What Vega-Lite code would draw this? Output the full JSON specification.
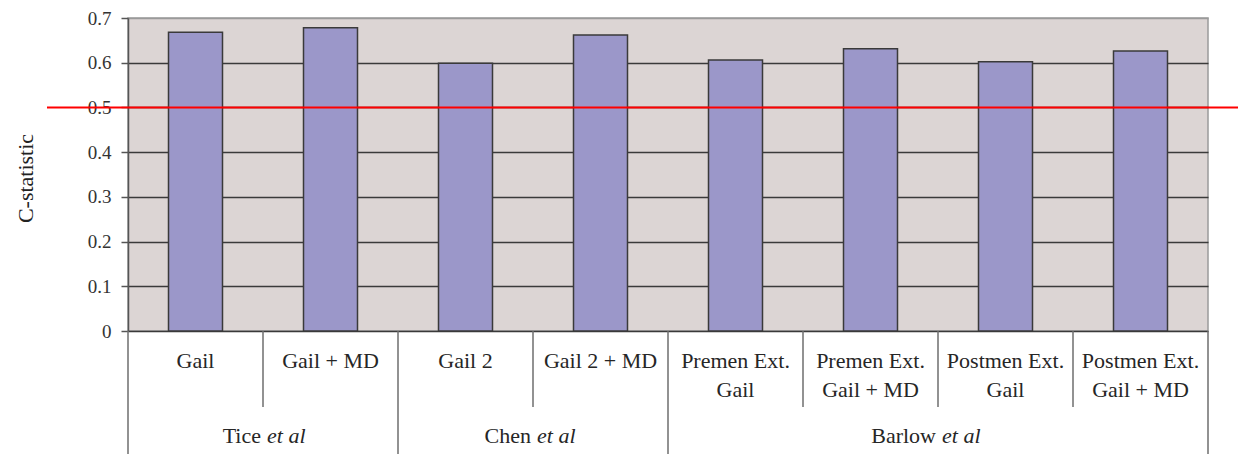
{
  "$schema": "https://vega.github.io/schema/vega-lite/v6.json",
  "background": "white",
  "padding": {"left": 13, "top": 8, "right": 0, "bottom": 0},
  "bounds": "flush",
  "spacing": 0,
  "config": {"view": {"stroke": null}, "font": "Liberation Serif"},
  "datasets": {
    "cstat": [
      {"study": "Tice", "model": "Gail", "c": 0.668},
      {"study": "Tice", "model": "Gail + MD", "c": 0.678},
      {"study": "Chen", "model": "Gail 2", "c": 0.599},
      {"study": "Chen", "model": "Gail 2 + MD", "c": 0.662},
      {"study": "Barlow", "model": "Premen Ext. Gail", "c": 0.606},
      {"study": "Barlow", "model": "Premen Ext. Gail + MD", "c": 0.631},
      {"study": "Barlow", "model": "Postmen Ext. Gail", "c": 0.602},
      {"study": "Barlow", "model": "Postmen Ext. Gail + MD", "c": 0.626}
    ],
    "groupStarts": [
      {"model": "Gail"},
      {"model": "Gail 2"},
      {"model": "Premen Ext. Gail"}
    ],
    "innerEdges": [
      {"model": "Gail + MD"},
      {"model": "Gail 2 + MD"},
      {"model": "Premen Ext. Gail + MD"},
      {"model": "Postmen Ext. Gail"},
      {"model": "Postmen Ext. Gail + MD"}
    ],
    "studies": [
      {"study": "Tice", "mid": "Gail + MD"},
      {"study": "Chen", "mid": "Gail 2 + MD"},
      {"study": "Barlow", "mid": "Postmen Ext. Gail"}
    ]
  },
  "vconcat": [
    {
      "width": 1080,
      "height": 313,
      "view": {"fill": "#dcd5d4", "stroke": "#9a9a9a", "strokeWidth": 1.5},
      "layer": [
        {
          "data": {"name": "cstat"},
          "mark": {"type": "bar", "fill": "#9b97c9", "stroke": "#3a3a3a", "strokeWidth": 1.5},
          "encoding": {
            "x": {
              "field": "model", "type": "nominal",
              "scale": {
                "domain": ["Gail", "Gail + MD", "Gail 2", "Gail 2 + MD", "Premen Ext. Gail", "Premen Ext. Gail + MD", "Postmen Ext. Gail", "Postmen Ext. Gail + MD"],
                "paddingInner": 0.6, "paddingOuter": 0.3
              },
              "axis": null
            },
            "y": {
              "field": "c", "type": "quantitative",
              "scale": {"domain": [0, 0.7], "nice": false},
              "axis": {
                "values": [0, 0.1, 0.2, 0.3, 0.4, 0.5, 0.6, 0.7],
                "format": ".1~f",
                "title": "C-statistic",
                "titleFont": "Liberation Serif",
                "titleFontSize": 22,
                "titleFontWeight": "normal",
                "titleColor": "#222222",
                "titleAngle": -90,
                "titleX": -103,
                "titleY": 160,
                "titleAlign": "center",
                "titleBaseline": "middle",
                "labelFont": "Liberation Serif",
                "labelFontSize": 19,
                "labelColor": "#333333",
                "labelPadding": 10,
                "tickSize": 7,
                "tickColor": "#555555",
                "tickWidth": 1.5,
                "domainColor": "#555555",
                "domainWidth": 1.5,
                "grid": true,
                "gridColor": {"condition": {"test": "datum.value >= 0.7", "value": "#9a9a9a"}, "value": "#3a3a3a"},
                "gridWidth": 1.5,
                "gridOpacity": 1
              }
            }
          }
        },
        {
          "data": {"values": [{"threshold": 0.5}]},
          "mark": {"type": "rule", "color": "#ff0000", "strokeWidth": 2},
          "encoding": {
            "y": {"field": "threshold", "type": "quantitative"},
            "x": {"value": -81},
            "x2": {"value": 1112}
          }
        }
      ]
    },
    {
      "width": 1080,
      "height": 123,
      "view": {"stroke": null},
      "encoding": {
        "x": {
          "field": "model", "type": "nominal",
          "scale": {
            "domain": ["Gail", "Gail + MD", "Gail 2", "Gail 2 + MD", "Premen Ext. Gail", "Premen Ext. Gail + MD", "Postmen Ext. Gail", "Postmen Ext. Gail + MD"],
            "paddingInner": 0, "paddingOuter": 0
          },
          "axis": null
        }
      },
      "layer": [
        {
          "data": {"name": "groupStarts"},
          "mark": {"type": "rule", "color": "#6e6e6e", "strokeWidth": 1.5},
          "encoding": {"x": {"field": "model", "type": "nominal", "bandPosition": 0}}
        },
        {
          "data": {"values": [{"model": "Postmen Ext. Gail + MD"}]},
          "mark": {"type": "rule", "color": "#6e6e6e", "strokeWidth": 1.5},
          "encoding": {"x": {"field": "model", "type": "nominal", "bandPosition": 1}}
        },
        {
          "data": {"name": "innerEdges"},
          "mark": {"type": "rule", "color": "#6e6e6e", "strokeWidth": 1.5},
          "encoding": {
            "x": {"field": "model", "type": "nominal", "bandPosition": 0},
            "y": {"value": 0},
            "y2": {"value": 76}
          }
        },
        {
          "data": {"name": "cstat"},
          "transform": [{"calculate": "replace(datum.model, 'Ext. ', 'Ext.\\n')", "as": "label"}],
          "mark": {"type": "text", "font": "Liberation Serif", "fontSize": 22, "color": "#262626", "baseline": "alphabetic", "lineBreak": "\n", "lineHeight": 29, "y": 37},
          "encoding": {"text": {"field": "label", "type": "nominal"}}
        },
        {
          "data": {"name": "studies"},
          "mark": {"type": "text", "font": "Liberation Serif", "fontSize": 22, "color": "#262626", "baseline": "alphabetic", "align": "right", "dx": -2, "y": 112},
          "encoding": {
            "x": {"field": "mid", "type": "nominal", "bandPosition": 0},
            "text": {"field": "study", "type": "nominal"}
          }
        },
        {
          "data": {"name": "studies"},
          "mark": {"type": "text", "font": "Liberation Serif", "fontSize": 22, "fontStyle": "italic", "color": "#262626", "baseline": "alphabetic", "align": "left", "dx": 4, "y": 112, "text": "et al"},
          "encoding": {
            "x": {"field": "mid", "type": "nominal", "bandPosition": 0}
          }
        }
      ]
    }
  ]
}
